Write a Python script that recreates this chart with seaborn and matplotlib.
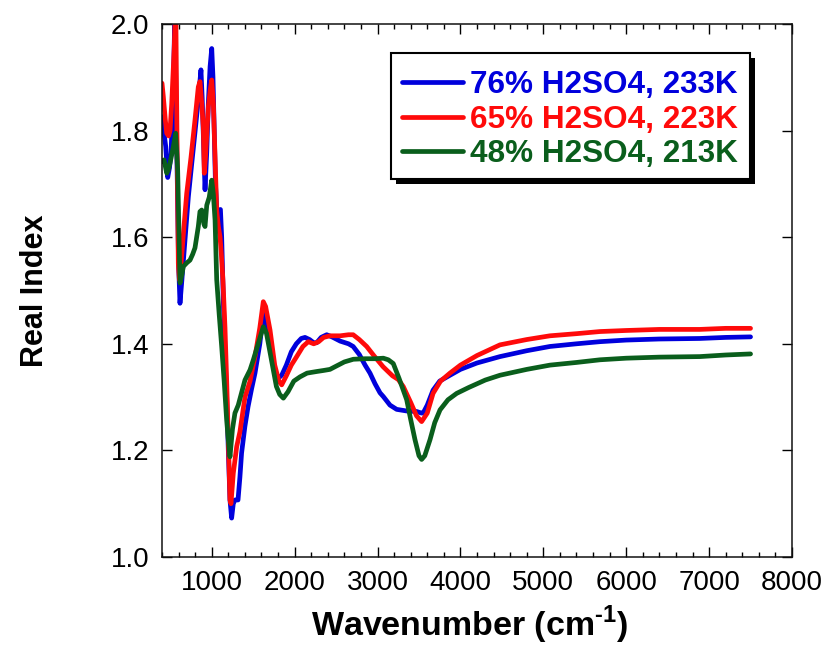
import numpy as np
import pandas as pd
import matplotlib
matplotlib.use("Agg")
import matplotlib.pyplot as plt
from matplotlib.patches import Rectangle
from matplotlib.ticker import MultipleLocator
import seaborn as sns

# Real refractive index of aqueous sulfuric acid vs. wavenumber
labels = ["76% H2SO4, 233K", "65% H2SO4, 223K", "48% H2SO4, 213K"]
colors = ["#0000DC", "#FF0A0A", "#0A5E1C"]

wn_76 = [400, 445, 469, 490, 509, 537, 555, 575, 600, 617, 640, 680, 718, 760, 800,
         834, 870, 885, 898, 919, 940, 959, 980, 1000, 1015, 1030, 1045, 1065, 1085,
         1105, 1120, 1140, 1160, 1180, 1200, 1220, 1240, 1260, 1280, 1317, 1340, 1360,
         1400, 1438, 1480, 1522, 1580, 1622, 1640, 1680, 1720, 1760, 1800, 1844, 1900,
         1960, 2020, 2080, 2125, 2180, 2230, 2266, 2320, 2387, 2450, 2550, 2650, 2706,
         2780, 2850, 2909, 2970, 3030, 3070, 3150, 3231, 3350, 3472, 3530, 3550, 3600,
         3670, 3750, 3874, 4000, 4200, 4477, 4800, 5080, 5400, 5684, 6000, 6400, 6887,
         7200, 7500]
n_76 = [1.826, 1.770, 1.712, 1.730, 1.757, 1.882, 2.020, 1.800, 1.550, 1.476, 1.520,
        1.600, 1.676, 1.740, 1.800, 1.852, 1.914, 1.860, 1.795, 1.689, 1.760, 1.852,
        1.920, 1.954, 1.900, 1.800, 1.700, 1.640, 1.650, 1.652, 1.600, 1.480, 1.380,
        1.300, 1.200, 1.107, 1.073, 1.100, 1.107, 1.107, 1.150, 1.195, 1.245, 1.282,
        1.315, 1.345, 1.400, 1.457, 1.452, 1.420, 1.380, 1.350, 1.335, 1.341, 1.360,
        1.385, 1.400, 1.410, 1.412, 1.408, 1.402, 1.402, 1.412, 1.417, 1.413, 1.405,
        1.400, 1.395, 1.380, 1.360, 1.345, 1.325, 1.308, 1.301, 1.285, 1.277, 1.274,
        1.273, 1.270, 1.270, 1.285, 1.313, 1.330, 1.341, 1.352, 1.364, 1.376, 1.387,
        1.395, 1.400, 1.404, 1.407, 1.409, 1.410, 1.412, 1.413]

wn_65 = [400, 416, 440, 457, 480, 497, 517, 548, 565, 580, 597, 610, 630, 660, 698,
         750, 798, 838, 858, 880, 898, 910, 925, 959, 985, 1000, 1020, 1040, 1060,
         1080, 1100, 1115, 1135, 1160, 1180, 1200, 1220, 1232, 1260, 1301, 1340, 1401,
         1462, 1522, 1580, 1622, 1650, 1703, 1760, 1810, 1844, 1900, 1960, 2025, 2100,
         2165, 2230, 2290, 2350, 2426, 2550, 2650, 2706, 2780, 2869, 2960, 3067, 3180,
         3250, 3310, 3400, 3470, 3532, 3600, 3670, 3760, 3874, 4000, 4200, 4477, 4800,
         5080, 5400, 5684, 6000, 6400, 6887, 7200, 7500]
n_65 = [1.889, 1.864, 1.820, 1.795, 1.790, 1.800, 1.850, 1.957, 2.050, 1.800, 1.550,
        1.520, 1.550, 1.610, 1.682, 1.750, 1.820, 1.882, 1.892, 1.850, 1.807, 1.720,
        1.750, 1.845, 1.880, 1.895, 1.850, 1.750, 1.650, 1.620, 1.601, 1.570, 1.520,
        1.430, 1.332, 1.220, 1.107, 1.100, 1.157, 1.207, 1.235, 1.300, 1.330, 1.376,
        1.430, 1.479, 1.470, 1.426, 1.360, 1.330, 1.323, 1.340, 1.360, 1.376, 1.395,
        1.404, 1.400, 1.404, 1.412, 1.415, 1.415, 1.417, 1.417, 1.408, 1.395, 1.377,
        1.357, 1.340, 1.333, 1.320, 1.290, 1.265, 1.254, 1.270, 1.307, 1.330, 1.345,
        1.360, 1.378, 1.398, 1.408, 1.415, 1.419, 1.423, 1.425, 1.427, 1.427, 1.429,
        1.429]

wn_48 = [400, 425, 457, 480, 497, 537, 565, 589, 603, 617, 640, 657, 700, 738, 770,
         798, 838, 858, 879, 905, 919, 940, 970, 1000, 1020, 1040, 1060, 1090, 1120,
         1150, 1180, 1200, 1220, 1250, 1280, 1320, 1401, 1462, 1502, 1560, 1622, 1660,
         1720, 1780, 1820, 1864, 1920, 1990, 2065, 2150, 2266, 2350, 2426, 2500, 2600,
         2708, 2850, 2970, 3070, 3130, 3190, 3260, 3352, 3400, 3452, 3500, 3532, 3570,
         3633, 3690, 3754, 3850, 3955, 4100, 4300, 4477, 4800, 5080, 5400, 5684, 6000,
         6400, 6887, 7200, 7500]
n_48 = [1.742, 1.745, 1.720, 1.728, 1.739, 1.770, 1.795, 1.726, 1.620, 1.514, 1.530,
        1.545, 1.552, 1.557, 1.568, 1.580, 1.620, 1.648, 1.651, 1.625, 1.620, 1.660,
        1.675, 1.707, 1.680, 1.632, 1.520, 1.455, 1.395, 1.330, 1.257, 1.220, 1.188,
        1.240, 1.270, 1.285, 1.332, 1.351, 1.370, 1.400, 1.432, 1.420, 1.370, 1.320,
        1.305, 1.298, 1.310, 1.330, 1.338, 1.345, 1.348, 1.350, 1.352, 1.358, 1.366,
        1.371, 1.372, 1.372, 1.373, 1.370, 1.363, 1.335, 1.295, 1.258, 1.220, 1.190,
        1.183, 1.190, 1.220, 1.252, 1.276, 1.295, 1.307, 1.318, 1.332, 1.341, 1.352,
        1.360, 1.365, 1.370, 1.373, 1.375, 1.376, 1.379, 1.381]

frames = []
for lab, wn, n in zip(labels, [wn_76, wn_65, wn_48], [n_76, n_65, n_48]):
    frames.append(pd.DataFrame({"wavenumber": wn, "real_index": n, "sample": lab}))
df = pd.concat(frames, ignore_index=True)

sns.set_theme(style="ticks")
plt.rcParams["font.family"] = ["Liberation Sans", "DejaVu Sans"]
plt.rcParams["mathtext.fontset"] = "custom"
plt.rcParams["mathtext.rm"] = "Liberation Sans:bold"
plt.rcParams["mathtext.bf"] = "Liberation Sans:bold"
plt.rcParams["text.color"] = "black"
plt.rcParams["axes.labelcolor"] = "black"
plt.rcParams["xtick.color"] = "black"
plt.rcParams["ytick.color"] = "black"

fig = plt.figure(figsize=(8.3, 6.5), dpi=100)
ax = fig.add_axes([162 / 830, 1 - 557 / 650, 630 / 830, 533 / 650])

sns.lineplot(data=df, x="wavenumber", y="real_index", hue="sample",
             hue_order=labels, palette=colors, sort=False, estimator=None,
             linewidth=3.4, ax=ax, legend=False)

ax.set_xlim(400, 8000)
ax.set_ylim(1.0, 2.0)
ax.xaxis.set_minor_locator(MultipleLocator(200))
ax.set_xticks([1000, 2000, 3000, 4000, 5000, 6000, 7000, 8000])
ax.set_yticks([1.0, 1.2, 1.4, 1.6, 1.8, 2.0])
ax.set_yticklabels(["1.0", "1.2", "1.4", "1.6", "1.8", "2.0"])

ax.tick_params(which="both", direction="in", top=True, right=True,
               labelsize=20, pad=9, color="black", labelcolor="black", width=1.0)
ax.tick_params(which="major", length=7)
ax.tick_params(which="minor", length=3.5)
for sp in ax.spines.values():
    sp.set_linewidth(1.1)
    sp.set_color("#111111")

ax.set_xlabel("Wavenumber (cm$^{\\text{-1}}$)", fontsize=24.5, fontweight="bold",
              labelpad=6)
ax.xaxis.label.set_x(0.489)
ax.set_ylabel("Real Index", fontsize=22, fontweight="bold", labelpad=44)

handles = ax.get_lines()[:3]
leg = ax.legend(handles, labels, loc="upper right",
                bbox_to_anchor=((738 - 162) / 630, (557 - 70) / 533),
                borderaxespad=0, frameon=False, handlelength=1.95,
                handletextpad=0.22, borderpad=0.0, labelspacing=0.15,
                prop={"size": 22.7, "weight": "bold"}, labelcolor="linecolor")
for h in leg.get_lines():
    h.set_linewidth(3.4)

# legend box and its drop shadow, padded around the legend content
fig.canvas.draw()
bb = leg.get_window_extent()
pad_l, pad_r, pad_t, pad_b = 11, 12, 17, 10
x0, y0 = bb.x0 - pad_l, bb.y0 - pad_b
w, h = bb.width + pad_l + pad_r, bb.height + pad_t + pad_b
inv = ax.transAxes.inverted()
(ax0, ay0), (ax1, ay1) = inv.transform([(x0, y0), (x0 + w, y0 + h)])
sx, sy = 5 / 630, 5 / 533
ax.add_patch(Rectangle((ax0 + sx, ay0 - sy), ax1 - ax0, ay1 - ay0,
                       transform=ax.transAxes, facecolor="black",
                       edgecolor="none", zorder=4.8, clip_on=False))
ax.add_patch(Rectangle((ax0, ay0), ax1 - ax0, ay1 - ay0,
                       transform=ax.transAxes, facecolor="white",
                       edgecolor="black", linewidth=1.5, zorder=4.9,
                       clip_on=False))

fig.savefig("out.png", dpi=100)
